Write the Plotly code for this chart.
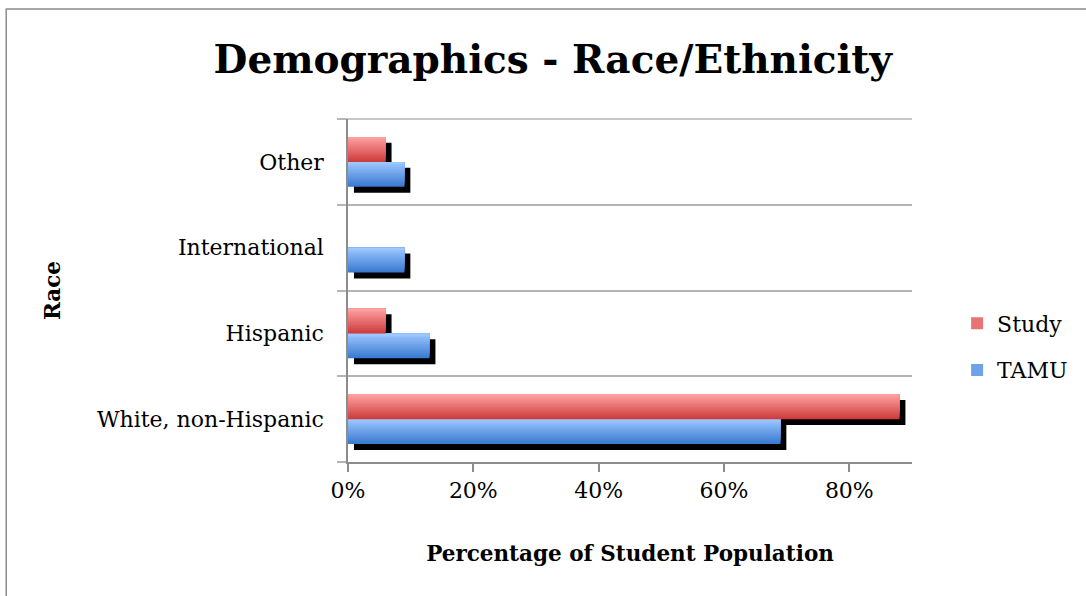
import plotly.graph_objects as go

categories = ["White, non-Hispanic", "Hispanic", "International", "Other"]
study = [0.88, 0.06, 0.0, 0.06]
tamu = [0.69, 0.13, 0.09, 0.09]
x_ticks = [0, 0.2, 0.4, 0.6, 0.8]
x_tick_labels = ["0%", "20%", "40%", "60%", "80%"]

FONT = "DejaVu Serif"
pos = list(range(len(categories)))
BW = 0.2915          # bar thickness in category units
SH_Y = 0.068         # shadow vertical offset (category units)
SH_X = 0.0095        # shadow horizontal offset (value units)
N = 14               # gradient strips
GRID = "#B5B5B5"


def lerp(c1, c2, t):
    return "rgb(%d,%d,%d)" % tuple(round(a + (b - a) * t) for a, b in zip(c1, c2))


RED_TOP, RED_BOT = (255, 160, 160), (206, 62, 62)
BLUE_TOP, BLUE_BOT = (155, 198, 255), (58, 122, 208)

fig = go.Figure()

# shadows
for vals, off in ((study, 0.0), (tamu, -BW)):
    fig.add_trace(go.Bar(y=pos, x=vals, base=[SH_X] * len(vals), orientation="h",
                         offset=off - SH_Y, width=BW, marker=dict(color="black", line_width=0),
                         showlegend=False, hoverinfo="skip"))

# gradient bars (each strip runs from its start to the bar's top edge)
for name, vals, off, top, bot, rank in (("TAMU", tamu, -BW, BLUE_TOP, BLUE_BOT, 2),
                                         ("Study", study, 0.0, RED_TOP, RED_BOT, 1)):
    for i in range(N):
        t = i / (N - 1)
        fig.add_trace(go.Bar(
            y=pos, x=vals, orientation="h",
            offset=off + i * BW / N, width=BW - i * BW / N,
            marker=dict(color=lerp(bot, top, t), line_width=0),
            name=name, legendgroup=name, legendrank=rank,
            showlegend=(i == N // 2), hovertemplate=name + ": %{x:.0%}<extra></extra>"))

fig.update_layout(
    width=1086, height=596,
    margin=dict(l=348, r=174, t=119, b=134),
    plot_bgcolor="white", paper_bgcolor="white",
    barmode="overlay",
    font=dict(family=FONT, color="black", size=22),
    title=dict(text="<b>Demographics - Race/Ethnicity</b>", x=0.509, xanchor="center",
               y=0.9, yanchor="middle", font=dict(size=39, family=FONT)),
    showlegend=True,
    legend=dict(x=1.08, xanchor="left", y=0.465, yanchor="top", font=dict(size=22),
                traceorder="grouped", tracegroupgap=15, bgcolor="rgba(0,0,0,0)"),
    xaxis=dict(range=[0, 0.9], tickvals=x_ticks, ticktext=x_tick_labels,
               showgrid=False, zeroline=False, showline=True, linecolor="#8C8C8C", linewidth=1.5,
               ticks="outside", ticklen=8, tickcolor="#8C8C8C", tickwidth=1.5,
               tickfont=dict(size=22),
               title=dict(text="<b>Percentage of Student Population</b>", font=dict(size=21.5), standoff=44)),
    yaxis=dict(range=[-0.5, 3.5], tickvals=pos, ticktext=categories,
               showgrid=False, zeroline=False, showline=True, linecolor="#8C8C8C", linewidth=1.5,
               ticks="", tickfont=dict(size=22), ticklabelstandoff=18,
               minor=dict(tickvals=[-0.5, 0.5, 1.5, 2.5, 3.5], showgrid=True, gridcolor=GRID,
                          gridwidth=1.5, ticks="outside", ticklen=9, tickcolor=GRID, tickwidth=1.5),
               title=dict(text="<b>Race</b>", font=dict(size=21.5), standoff=30)),
    shapes=[
        dict(type="rect", xref="paper", yref="paper", x0=-0.606, x1=1.6, y0=-1.0, y1=1.3207,
             line=dict(color="#8C8C8C", width=1.5), fillcolor="rgba(0,0,0,0)", layer="below"),
        # top gridline (edge gridline is not drawn by plotly)
        dict(type="line", xref="paper", yref="paper", x0=-9 / 564, x1=1, y0=1, y1=1,
             line=dict(color=GRID, width=1.5), layer="below"),
    ],
)

fig.write_html("out.html")
